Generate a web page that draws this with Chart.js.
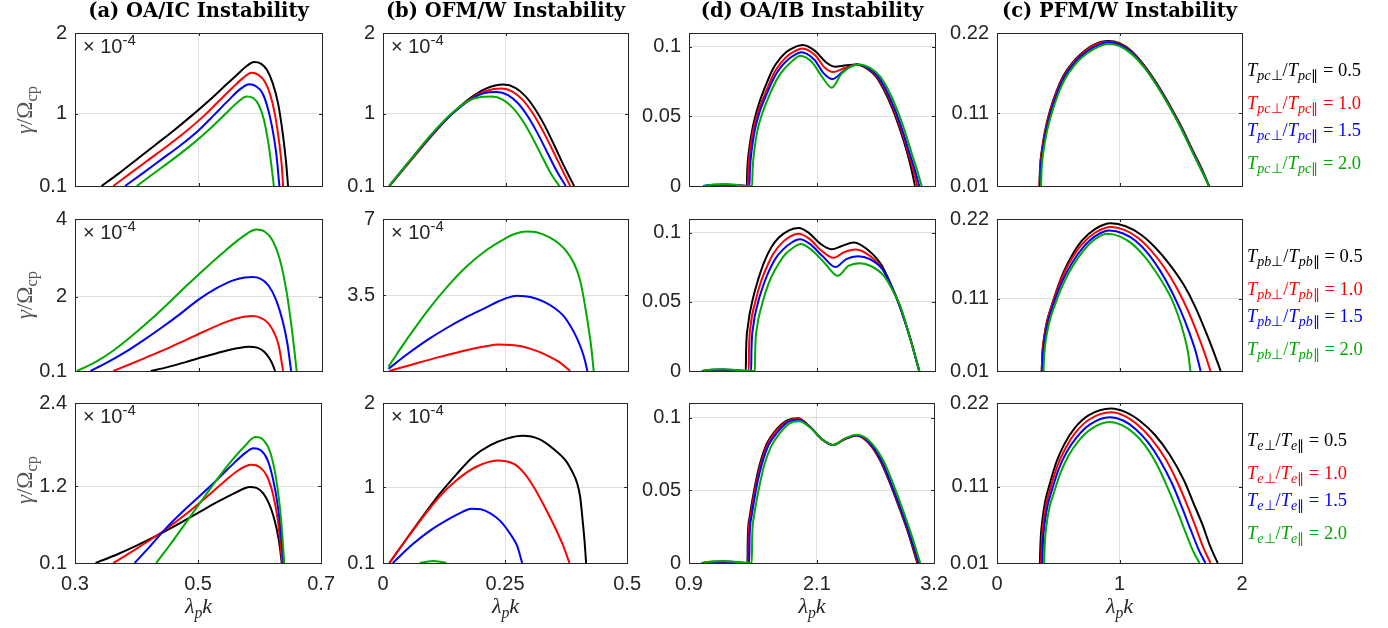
<!DOCTYPE html>
<html>
<head>
<meta charset="utf-8">
<script src="https://cdn.jsdelivr.net/npm/chart.js@4.4.1/dist/chart.umd.min.js"></script>
<style>
body{margin:0;background:#fff;width:1388px;height:628px;position:relative;overflow:hidden}
canvas{position:absolute}
.tt{position:absolute;font:bold 19.5px "DejaVu Serif",serif;color:#000;white-space:nowrap;transform:translateX(-50%)}
.leg{position:absolute;font:18.5px "Liberation Serif",serif;white-space:nowrap;transform:translateY(-50%)}
.leg sub{font-size:76%;vertical-align:-0.3em;line-height:0}
.mul{position:absolute;font:20px "Liberation Sans",sans-serif;color:#262626;white-space:nowrap}
.mul sup{font-size:75%;vertical-align:0.55em;line-height:0}
.xl{position:absolute;font:italic 22px "Liberation Serif",serif;color:#262626;transform:translateX(-50%);white-space:nowrap}
.xl sub{font-size:72%;vertical-align:-0.3em;line-height:0}
.yl{position:absolute;font:23px "Liberation Serif",serif;color:#555;white-space:nowrap;transform:translate(-50%,-50%) rotate(-90deg)}
.yl sub{font-size:72%;vertical-align:-0.3em;line-height:0}
</style>
</head>
<body>
<script>
// column titles, species and ratio labels
const titles = ['(a) OA/IC Instability', '(b) OFM/W Instability', '(d) OA/IB Instability', '(c) PFM/W Instability'];
const species = ['pc', 'pb', 'e'];
const ratios = ['0.5', '1.0', '1.5', '2.0'];
const colors = ['#000000', '#ff0000', '#0000ff', '#00aa00'];

// x ticks per column
const xTicks = [[0.3, 0.5, 0.7], [0, 0.25, 0.5], [0.9, 2.1, 3.2], [0, 1, 2]];
const xTickLabels = [['0.3', '0.5', '0.7'], ['0', '0.25', '0.5'], ['0.9', '2.1', '3.2'], ['0', '1', '2']];

// y ticks per row, per column
const yTicks = [
  [[0.1, 1, 2], [0.1, 1, 2], [0, 0.05, 0.1], [0.01, 0.11, 0.22]],
  [[0.1, 2, 4], [0, 3.5, 7], [0, 0.05, 0.1], [0.01, 0.11, 0.22]],
  [[0.1, 1.2, 2.4], [0.1, 1, 2], [0, 0.05, 0.1], [0.01, 0.11, 0.22]]
];
const yTickLabels = [
  [['0.1', '1', '2'], ['0.1', '1', '2'], ['0', '0.05', '0.1'], ['0.01', '0.11', '0.22']],
  [['0.1', '2', '4'], ['', '3.5', '7'], ['0', '0.05', '0.1'], ['0.01', '0.11', '0.22']],
  [['0.1', '1.2', '2.4'], ['0.1', '1', '2'], ['0', '0.05', '0.1'], ['0.01', '0.11', '0.22']]
];
const yMaxIB = 0.11;

// (a) OA/IC — series order: 0.5 (black), 1.0 (red), 1.5 (blue), 2.0 (green)
const icPc = [
  [[0.343,0.1],[0.37,0.25],[0.40,0.43],[0.43,0.61],[0.46,0.79],[0.49,0.98],[0.52,1.18],[0.545,1.36],[0.565,1.5],[0.578,1.59],[0.59,1.64],[0.601,1.62],[0.611,1.54],[0.62,1.38],[0.629,1.12],[0.637,0.72],[0.642,0.38],[0.645,0.1]],
  [[0.362,0.1],[0.39,0.26],[0.42,0.43],[0.45,0.6],[0.48,0.78],[0.51,0.98],[0.535,1.17],[0.555,1.32],[0.572,1.44],[0.586,1.505],[0.597,1.48],[0.607,1.4],[0.616,1.24],[0.624,0.98],[0.631,0.62],[0.635,0.34],[0.637,0.1]],
  [[0.381,0.1],[0.41,0.26],[0.44,0.43],[0.47,0.6],[0.5,0.79],[0.525,0.98],[0.548,1.16],[0.567,1.3],[0.582,1.364],[0.593,1.34],[0.603,1.26],[0.611,1.1],[0.619,0.84],[0.626,0.5],[0.631,0.1]],
  [[0.40,0.1],[0.43,0.27],[0.46,0.44],[0.49,0.62],[0.52,0.82],[0.543,0.99],[0.562,1.13],[0.578,1.21],[0.589,1.19],[0.598,1.1],[0.606,0.92],[0.613,0.64],[0.618,0.36],[0.622,0.1]]
];
const icPb = [
  [[0.4226,0.1],[0.45,0.2],[0.48,0.33],[0.51,0.47],[0.54,0.6],[0.565,0.69],[0.581,0.725],[0.595,0.7],[0.606,0.6],[0.615,0.42],[0.62,0.27],[0.624,0.1]],
  [[0.362,0.1],[0.39,0.28],[0.42,0.48],[0.45,0.68],[0.48,0.9],[0.51,1.12],[0.54,1.33],[0.565,1.46],[0.586,1.51],[0.6,1.47],[0.612,1.34],[0.622,1.1],[0.63,0.75],[0.637,0.1]],
  [[0.325,0.1],[0.35,0.3],[0.38,0.57],[0.41,0.88],[0.44,1.21],[0.47,1.56],[0.5,1.93],[0.53,2.23],[0.555,2.42],[0.575,2.5],[0.588,2.51],[0.6,2.47],[0.613,2.3],[0.625,1.95],[0.636,1.4],[0.644,0.8],[0.65,0.1]],
  [[0.303,0.1],[0.33,0.3],[0.36,0.6],[0.39,0.97],[0.42,1.38],[0.45,1.82],[0.48,2.28],[0.51,2.72],[0.54,3.14],[0.565,3.47],[0.58,3.64],[0.593,3.73],[0.607,3.68],[0.62,3.45],[0.632,2.95],[0.643,2.1],[0.651,1.2],[0.659,0.1]]
];
const icE = [
  [[0.3335,0.1],[0.37,0.23],[0.4,0.35],[0.432,0.49],[0.47,0.67],[0.5,0.82],[0.53,0.97],[0.556,1.09],[0.572,1.16],[0.583,1.194],[0.595,1.18],[0.606,1.1],[0.615,0.96],[0.622,0.79],[0.628,0.58],[0.633,0.33],[0.636,0.1]],
  [[0.362,0.1],[0.39,0.25],[0.42,0.42],[0.45,0.6],[0.48,0.8],[0.51,1.02],[0.54,1.25],[0.565,1.43],[0.586,1.513],[0.6,1.48],[0.612,1.35],[0.622,1.08],[0.63,0.7],[0.637,0.1]],
  [[0.397,0.1],[0.42,0.32],[0.45,0.62],[0.48,0.88],[0.5,1.04],[0.53,1.29],[0.56,1.55],[0.578,1.69],[0.59,1.749],[0.602,1.72],[0.613,1.58],[0.622,1.3],[0.63,0.9],[0.635,0.5],[0.639,0.1]],
  [[0.432,0.1],[0.46,0.43],[0.49,0.8],[0.52,1.17],[0.55,1.52],[0.575,1.77],[0.593,1.91],[0.606,1.87],[0.617,1.7],[0.626,1.36],[0.633,0.9],[0.637,0.5],[0.64,0.1]]
];

// (b) OFM/W
const fmPc = [
  [[0.013,0.1],[0.05,0.37],[0.1,0.73],[0.14,0.99],[0.18,1.2],[0.21,1.31],[0.246,1.36],[0.27,1.32],[0.29,1.22],[0.31,1.06],[0.33,0.85],[0.35,0.6],[0.37,0.34],[0.39,0.1]],
  [[0.013,0.1],[0.05,0.37],[0.1,0.73],[0.14,0.99],[0.18,1.19],[0.21,1.28],[0.242,1.31],[0.265,1.27],[0.285,1.17],[0.305,1.01],[0.325,0.8],[0.345,0.56],[0.365,0.31],[0.382,0.1]],
  [[0.013,0.1],[0.05,0.38],[0.1,0.74],[0.14,0.99],[0.18,1.18],[0.205,1.25],[0.232,1.267],[0.255,1.23],[0.275,1.13],[0.295,0.97],[0.315,0.76],[0.335,0.52],[0.355,0.28],[0.373,0.1]],
  [[0.013,0.1],[0.05,0.38],[0.1,0.75],[0.14,1.0],[0.175,1.16],[0.2,1.205],[0.222,1.21],[0.245,1.17],[0.265,1.07],[0.285,0.91],[0.305,0.7],[0.325,0.46],[0.345,0.23],[0.36,0.1]]
];
const fmPb = [
  [],
  [[0.013,0],[0.06,0.3],[0.116,0.65],[0.17,0.96],[0.21,1.14],[0.235,1.22],[0.26,1.2],[0.28,1.15],[0.3,1.03],[0.32,0.87],[0.34,0.66],[0.36,0.41],[0.382,0]],
  [[0.011,0.1],[0.05,0.78],[0.09,1.42],[0.13,1.98],[0.17,2.48],[0.21,2.92],[0.235,3.2],[0.255,3.38],[0.273,3.46],[0.29,3.44],[0.31,3.35],[0.33,3.17],[0.35,2.9],[0.368,2.55],[0.382,2.1],[0.395,1.55],[0.405,1.0],[0.412,0.5],[0.417,0]],
  [[0.011,0.2],[0.05,1.5],[0.09,2.75],[0.13,3.85],[0.17,4.8],[0.21,5.55],[0.249,6.1],[0.27,6.32],[0.293,6.42],[0.315,6.38],[0.34,6.15],[0.36,5.85],[0.375,5.5],[0.39,4.95],[0.402,4.2],[0.41,3.3],[0.418,2.2],[0.425,1.1],[0.43,0]]
];
const fmE = [
  [[0.013,0.1],[0.05,0.4],[0.116,0.92],[0.15,1.15],[0.184,1.36],[0.22,1.5],[0.255,1.58],[0.286,1.61],[0.32,1.57],[0.35,1.45],[0.375,1.31],[0.388,1.18],[0.397,1.06],[0.404,0.88],[0.409,0.6],[0.413,0.35],[0.416,0.1]],
  [[0.013,0.1],[0.05,0.4],[0.116,0.89],[0.15,1.08],[0.19,1.24],[0.235,1.317],[0.27,1.27],[0.29,1.16],[0.31,0.99],[0.33,0.78],[0.35,0.55],[0.368,0.32],[0.382,0.1]],
  [[0.02,0.1],[0.06,0.32],[0.1,0.5],[0.14,0.64],[0.162,0.705],[0.181,0.744],[0.2,0.738],[0.22,0.69],[0.24,0.6],[0.26,0.45],[0.275,0.3],[0.285,0.1]],
  [[0.0755,0.1],[0.09,0.115],[0.103,0.123],[0.117,0.115],[0.13,0.1]]
];

// (d) OA/IB
const ibPc = [
  [[1.034,0],[1.14,0.0005],[1.25,0.0007],[1.35,0.0004],[1.44,0],[1.445,0.012],[1.46,0.025],[1.49,0.04],[1.53,0.053],[1.563,0.0613],[1.6,0.069],[1.688,0.0847],[1.75,0.0915],[1.813,0.0965],[1.88,0.0995],[1.963,0.1013],[2.08,0.097],[2.18,0.089],[2.265,0.0858],[2.37,0.0868],[2.468,0.0873],[2.56,0.0845],[2.65,0.0785],[2.72,0.0695],[2.8,0.056],[2.88,0.039],[2.94,0.024],[2.98,0.012],[3.013,0]],
  [[1.034,0],[1.14,0.0007],[1.25,0.0009],[1.35,0.0005],[1.44,0],[1.45,0],[1.455,0.012],[1.47,0.025],[1.5,0.04],[1.54,0.052],[1.61,0.066],[1.7,0.082],[1.76,0.0885],[1.82,0.0935],[1.89,0.097],[1.96,0.0989],[2.08,0.094],[2.17,0.085],[2.25,0.082],[2.36,0.085],[2.47,0.0873],[2.57,0.0845],[2.66,0.0785],[2.73,0.0695],[2.81,0.056],[2.89,0.039],[2.95,0.024],[2.995,0.012],[3.034,0]],
  [[1.034,0],[1.14,0.0009],[1.25,0.0011],[1.35,0.0006],[1.44,0],[1.465,0],[1.47,0.012],[1.485,0.025],[1.515,0.04],[1.555,0.052],[1.62,0.065],[1.71,0.08],[1.77,0.0865],[1.83,0.0912],[1.89,0.0943],[1.95,0.0962],[2.07,0.091],[2.16,0.081],[2.24,0.0769],[2.35,0.083],[2.47,0.0873],[2.58,0.0845],[2.67,0.0785],[2.74,0.0695],[2.82,0.056],[2.9,0.039],[2.96,0.024],[3.01,0.012],[3.053,0]],
  [[1.034,0],[1.14,0.0011],[1.25,0.0013],[1.35,0.0008],[1.44,0],[1.49,0],[1.495,0.012],[1.51,0.025],[1.54,0.04],[1.58,0.051],[1.65,0.065],[1.74,0.079],[1.795,0.0845],[1.85,0.0888],[1.895,0.0918],[1.94,0.0936],[2.05,0.089],[2.14,0.079],[2.234,0.0707],[2.33,0.081],[2.49,0.0873],[2.6,0.0845],[2.69,0.0785],[2.76,0.0695],[2.84,0.056],[2.92,0.039],[2.98,0.024],[3.03,0.012],[3.075,0]]
];
const ibPb = [
  [[1.02,0],[1.12,0.0005],[1.22,0.0007],[1.33,0.0004],[1.431,0],[1.434,0.015],[1.45,0.032],[1.499,0.0528],[1.55,0.067],[1.601,0.0785],[1.67,0.0895],[1.738,0.0964],[1.84,0.102],[1.926,0.1035],[2.02,0.1],[2.13,0.092],[2.233,0.0881],[2.33,0.0905],[2.438,0.093],[2.55,0.089],[2.694,0.0774],[2.78,0.064],[2.865,0.0483],[2.968,0.0237],[3.053,0]],
  [[1.02,0],[1.12,0.0007],[1.22,0.0009],[1.33,0.0005],[1.431,0],[1.458,0],[1.461,0.015],[1.477,0.033],[1.52,0.05],[1.57,0.064],[1.62,0.074],[1.69,0.085],[1.76,0.092],[1.84,0.097],[1.926,0.0993],[2.02,0.096],[2.14,0.087],[2.251,0.0819],[2.35,0.086],[2.456,0.0879],[2.56,0.085],[2.694,0.0755],[2.78,0.063],[2.865,0.048],[2.968,0.0237],[3.053,0]],
  [[1.02,0],[1.12,0.0009],[1.22,0.0011],[1.33,0.0006],[1.431,0],[1.481,0],[1.484,0.015],[1.5,0.032],[1.54,0.048],[1.59,0.061],[1.64,0.071],[1.71,0.0815],[1.78,0.088],[1.86,0.093],[1.936,0.0953],[2.03,0.092],[2.15,0.083],[2.268,0.0752],[2.37,0.081],[2.479,0.083],[2.59,0.081],[2.71,0.0735],[2.79,0.062],[2.87,0.047],[2.968,0.0235],[3.053,0]],
  [[1.02,0],[1.12,0.0011],[1.22,0.0013],[1.33,0.0008],[1.431,0],[1.516,0],[1.519,0.015],[1.535,0.031],[1.575,0.046],[1.62,0.058],[1.67,0.068],[1.74,0.078],[1.8,0.0845],[1.87,0.089],[1.944,0.0919],[2.04,0.088],[2.17,0.078],[2.291,0.0689],[2.39,0.076],[2.497,0.078],[2.6,0.076],[2.72,0.069],[2.8,0.059],[2.88,0.046],[2.97,0.023],[3.053,0]]
];
const ibE = [
  [[1.02,0],[1.12,0.0005],[1.22,0.0007],[1.33,0.0004],[1.448,0],[1.452,0.018],[1.47,0.032],[1.499,0.045],[1.53,0.057],[1.567,0.0685],[1.63,0.082],[1.704,0.0904],[1.82,0.098],[1.925,0.0996],[2.03,0.094],[2.15,0.085],[2.251,0.0811],[2.36,0.085],[2.473,0.0877],[2.58,0.083],[2.694,0.0705],[2.78,0.056],[2.865,0.0396],[2.96,0.02],[3.042,0]],
  [[1.02,0],[1.12,0.0007],[1.22,0.0009],[1.33,0.0005],[1.448,0],[1.455,0],[1.459,0.018],[1.477,0.032],[1.506,0.045],[1.537,0.057],[1.574,0.068],[1.637,0.0815],[1.71,0.09],[1.825,0.0975],[1.925,0.0993],[2.03,0.094],[2.15,0.085],[2.251,0.0811],[2.36,0.085],[2.473,0.0877],[2.58,0.083],[2.7,0.0705],[2.785,0.056],[2.87,0.0396],[2.965,0.02],[3.048,0]],
  [[1.02,0],[1.12,0.0009],[1.22,0.0011],[1.33,0.0006],[1.448,0],[1.465,0],[1.469,0.018],[1.487,0.032],[1.516,0.045],[1.547,0.057],[1.584,0.068],[1.647,0.081],[1.72,0.089],[1.83,0.097],[1.93,0.0985],[2.035,0.0935],[2.15,0.085],[2.251,0.0811],[2.36,0.0853],[2.475,0.0879],[2.585,0.0833],[2.705,0.0707],[2.79,0.056],[2.875,0.0398],[2.97,0.02],[3.055,0]],
  [[1.02,0],[1.12,0.0011],[1.22,0.0013],[1.33,0.0008],[1.448,0],[1.489,0],[1.493,0.018],[1.51,0.032],[1.54,0.045],[1.57,0.056],[1.605,0.067],[1.67,0.08],[1.74,0.088],[1.84,0.0958],[1.935,0.0975],[2.04,0.093],[2.155,0.0848],[2.255,0.0811],[2.365,0.0857],[2.48,0.0882],[2.595,0.0838],[2.72,0.071],[2.805,0.0565],[2.89,0.04],[2.985,0.02],[3.07,0]]
];

// (c) PFM/W
const pfPc = [
  [[0.346,0.01],[0.352,0.037],[0.365,0.058],[0.39,0.084],[0.433,0.114],[0.49,0.142],[0.541,0.161],[0.61,0.178],[0.678,0.19],[0.78,0.203],[0.909,0.209],[1.0,0.206],[1.1,0.195],[1.2,0.176],[1.3,0.152],[1.4,0.124],[1.5,0.093],[1.6,0.058],[1.67,0.034],[1.731,0.01]],
  [[0.348,0.01],[0.354,0.037],[0.367,0.058],[0.392,0.083],[0.435,0.113],[0.492,0.141],[0.543,0.16],[0.612,0.177],[0.68,0.189],[0.78,0.202],[0.909,0.208],[1.0,0.205],[1.1,0.194],[1.2,0.175],[1.3,0.151],[1.4,0.123],[1.5,0.092],[1.6,0.057],[1.67,0.033],[1.731,0.01]],
  [[0.352,0.01],[0.358,0.036],[0.371,0.057],[0.396,0.082],[0.44,0.112],[0.497,0.14],[0.548,0.159],[0.617,0.176],[0.685,0.188],[0.785,0.2],[0.909,0.207],[1.0,0.204],[1.1,0.193],[1.2,0.174],[1.3,0.15],[1.4,0.122],[1.5,0.091],[1.6,0.056],[1.67,0.032],[1.731,0.01]],
  [[0.359,0.01],[0.365,0.035],[0.378,0.056],[0.403,0.081],[0.447,0.11],[0.504,0.138],[0.555,0.157],[0.624,0.174],[0.69,0.186],[0.79,0.198],[0.909,0.205],[1.0,0.202],[1.1,0.191],[1.2,0.173],[1.3,0.149],[1.4,0.121],[1.5,0.09],[1.6,0.055],[1.67,0.031],[1.731,0.01]]
];
const pfPb = [
  [[0.365,0.01],[0.371,0.035],[0.385,0.057],[0.41,0.08],[0.455,0.105],[0.5,0.128],[0.544,0.147],[0.61,0.169],[0.693,0.19],[0.8,0.206],[0.931,0.214],[1.05,0.21],[1.17,0.199],[1.29,0.181],[1.41,0.157],[1.528,0.128],[1.62,0.098],[1.7,0.066],[1.767,0.037],[1.826,0.01]],
  [[0.365,0.01],[0.371,0.035],[0.385,0.056],[0.41,0.079],[0.455,0.104],[0.5,0.126],[0.544,0.144],[0.61,0.165],[0.693,0.185],[0.8,0.201],[0.931,0.209],[1.04,0.205],[1.15,0.194],[1.26,0.176],[1.37,0.152],[1.47,0.124],[1.56,0.093],[1.63,0.064],[1.69,0.037],[1.743,0.01]],
  [[0.37,0.01],[0.376,0.034],[0.39,0.055],[0.415,0.077],[0.46,0.102],[0.505,0.123],[0.55,0.14],[0.615,0.16],[0.7,0.18],[0.8,0.196],[0.92,0.204],[1.03,0.2],[1.13,0.19],[1.23,0.173],[1.33,0.149],[1.42,0.122],[1.5,0.093],[1.57,0.063],[1.62,0.038],[1.662,0.01]],
  [[0.38,0.01],[0.386,0.033],[0.4,0.054],[0.425,0.076],[0.47,0.1],[0.515,0.12],[0.56,0.137],[0.625,0.157],[0.71,0.177],[0.8,0.192],[0.902,0.1995],[1.0,0.196],[1.1,0.186],[1.2,0.169],[1.3,0.146],[1.37,0.127],[1.424,0.11],[1.48,0.086],[1.53,0.058],[1.56,0.035],[1.579,0.01]]
];
const pfE = [
  [[0.35,0.01],[0.356,0.04],[0.37,0.066],[0.395,0.092],[0.424,0.11],[0.484,0.142],[0.55,0.166],[0.634,0.187],[0.75,0.204],[0.931,0.2128],[1.05,0.208],[1.17,0.196],[1.29,0.178],[1.41,0.152],[1.528,0.118],[1.6,0.09],[1.678,0.06],[1.74,0.032],[1.802,0.01]],
  [[0.36,0.01],[0.366,0.04],[0.38,0.065],[0.405,0.09],[0.434,0.107],[0.494,0.138],[0.56,0.161],[0.64,0.181],[0.75,0.198],[0.931,0.2077],[1.04,0.203],[1.15,0.191],[1.26,0.173],[1.37,0.148],[1.47,0.117],[1.55,0.087],[1.62,0.058],[1.685,0.03],[1.743,0.01]],
  [[0.37,0.01],[0.376,0.039],[0.39,0.063],[0.415,0.087],[0.445,0.104],[0.505,0.134],[0.57,0.156],[0.65,0.175],[0.76,0.192],[0.92,0.2014],[1.03,0.197],[1.13,0.186],[1.23,0.169],[1.33,0.145],[1.43,0.114],[1.51,0.083],[1.58,0.054],[1.645,0.028],[1.701,0.01]],
  [[0.385,0.01],[0.391,0.038],[0.405,0.061],[0.43,0.084],[0.46,0.1],[0.52,0.129],[0.585,0.151],[0.665,0.17],[0.77,0.186],[0.917,0.195],[1.02,0.191],[1.12,0.18],[1.21,0.164],[1.3,0.141],[1.39,0.11],[1.47,0.079],[1.54,0.05],[1.6,0.026],[1.653,0.01]]
];

const grid = [
  [icPc, fmPc, ibPc, pfPc],
  [icPb, fmPb, ibPb, pfPb],
  [icE, fmE, ibE, pfE]
];

// layout of the plot boxes (px)
const colLeft = [75, 383, 689, 997];
const colW = [247, 245, 246, 245];
const rowTop = [27, 213, 397];
const rowH = [165, 164, 166];

const boxPlugin = {
  id: 'box',
  afterDatasetsDraw(chart) {
    const a = chart.chartArea, ctx = chart.ctx;
    const xs = chart.scales.x, ys = chart.scales.y;
    ctx.save();
    ctx.strokeStyle = '#262626';
    ctx.lineWidth = 1;
    ctx.beginPath();
    xs.ticks.forEach(t => {
      const p = Math.round(xs.getPixelForValue(t.value)) + 0.5;
      ctx.moveTo(p, a.bottom); ctx.lineTo(p, a.bottom - 3);
      ctx.moveTo(p, a.top); ctx.lineTo(p, a.top + 3);
    });
    ys.ticks.forEach(t => {
      const p = Math.round(ys.getPixelForValue(t.value)) + 0.5;
      ctx.moveTo(a.left, p); ctx.lineTo(a.left + 3, p);
      ctx.moveTo(a.right, p); ctx.lineTo(a.right - 3, p);
    });
    ctx.stroke();
    ctx.strokeRect(Math.round(a.left) + 0.5, Math.round(a.top) + 0.5, Math.round(a.right - a.left), Math.round(a.bottom - a.top));
    ctx.restore();
  }
};

function makePanel(r, c) {
  const bottomRow = r === 2;
  const xh = bottomRow ? 34 : 0;
  const cv = document.createElement('canvas');
  const w = 70 + colW[c] + 22, h = 14 + rowH[r] + xh + 14;
  cv.width = w; cv.height = h;
  cv.style.left = (colLeft[c] - 70) + 'px';
  cv.style.top = (rowTop[r] - 14) + 'px';
  document.body.appendChild(cv);

  const xt = xTicks[c], yt = yTicks[r][c];
  const yMax = c === 2 ? yMaxIB : yt[yt.length - 1];
  const datasets = grid[r][c].map((pts, i) => ({
    data: pts.map(p => ({ x: p[0], y: p[1] })),
    borderColor: colors[i],
    borderWidth: 2,
    pointRadius: 0,
    fill: false,
    cubicInterpolationMode: 'monotone',
    order: 3 - i
  }));
  const tickFont = { family: 'Liberation Sans', size: 20 };
  new Chart(cv, {
    type: 'line',
    data: { datasets },
    options: {
      responsive: false,
      animation: false,
      layout: { padding: { top: 14, right: 22, bottom: 14, left: 0 } },
      plugins: { legend: { display: false }, tooltip: { enabled: false } },
      scales: {
        x: {
          type: 'linear', min: xt[0], max: xt[xt.length - 1],
          afterBuildTicks: s => { s.ticks = xt.map(v => ({ value: v })); },
          afterFit: s => { s.height = xh; },
          grid: { color: 'rgba(0,0,0,0.12)', drawTicks: false },
          border: { display: false },
          ticks: {
            display: bottomRow, autoSkip: false, maxRotation: 0, padding: 9,
            color: '#262626', font: tickFont,
            callback: (v, i) => xTickLabels[c][i]
          }
        },
        y: {
          type: 'linear', min: yt[0], max: yMax,
          afterBuildTicks: s => { s.ticks = yt.map(v => ({ value: v })); },
          afterFit: s => { s.width = 70; },
          grid: { color: 'rgba(0,0,0,0.12)', drawTicks: false },
          border: { display: false },
          ticks: {
            autoSkip: false, padding: 8, color: '#262626', font: tickFont,
            callback: (v, i) => yTickLabels[r][c][i]
          }
        }
      }
    },
    plugins: [boxPlugin]
  });
}

function addDiv(cls, html, left, top) {
  const d = document.createElement('div');
  d.className = cls;
  d.innerHTML = html;
  d.style.left = left + 'px';
  d.style.top = top + 'px';
  document.body.appendChild(d);
}

for (let r = 0; r < 3; r++) {
  for (let c = 0; c < 4; c++) makePanel(r, c);
}

// titles
titles.forEach((t, c) => addDiv('tt', t, colLeft[c] + colW[c] / 2, -1));

// x 10^-4 marks on the first two columns
for (let r = 0; r < 3; r++) {
  for (let c = 0; c < 2; c++) addDiv('mul', '× 10<sup>-4</sup>', colLeft[c] + 8, rowTop[r] + 8);
}

// axis labels
for (let r = 0; r < 3; r++) addDiv('yl', '<i>γ</i>/Ω<sub>cp</sub>', 25, rowTop[r] + rowH[r] / 2);
for (let c = 0; c < 4; c++) addDiv('xl', 'λ<sub>p</sub>k', colLeft[c] + colW[c] / 2, 593);

// legends
const legOffsets = [43, 75.5, 102.5, 135.5];
species.forEach((s, r) => {
  ratios.forEach((v, i) => {
    const html = '<span style="color:' + colors[i] + '"><i>T</i><sub><i>' + s + '</i>⊥</sub>/<i>T</i><sub><i>' + s + '</i>∥</sub> = ' + v + '</span>';
    addDiv('leg', html, 1247, rowTop[r] + legOffsets[i]);
  });
});
</script>
</body>
</html>
